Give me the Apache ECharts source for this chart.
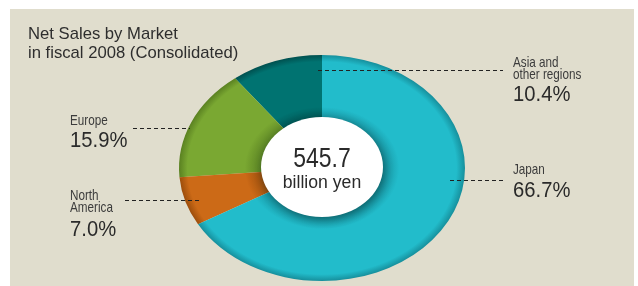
<!DOCTYPE html>
<html>
<head>
<meta charset="utf-8">
<script src="https://cdn.jsdelivr.net/npm/echarts@6/dist/echarts.min.js"></script>
<style>
html, body { margin: 0; padding: 0; background: #fff; }
#main { width: 638px; height: 286px; }
</style>
</head>
<body>
<div id="main"></div>
<script>
// data (share of net sales, counter-clockwise from 12 o'clock)
var regions = ['Asia and other regions', 'Europe', 'North America', 'Japan'];
var labelLines = [['Asia and', 'other regions'], ['Europe'], ['North', 'America'], ['Japan']];
var shares = [10.4, 15.9, 7.0, 66.7];
var totalSales = '545.7';
var totalUnit = 'billion yen';
var titleLines = ['Net Sales by Market', 'in fiscal 2008 (Consolidated)'];

// colours: base, edge shade
var baseColors = ['#007371', '#7aa832', '#cc6a17', '#22bccb'];
var edgeColors = ['#00504f', '#5a8121', '#9c4d0b', '#168f9c'];

var CX = 322, CY = 168, R = 143, R0 = 50, SY = 113 / 143;
var FONT = "'Liberation Sans', Arial, Helvetica, sans-serif";

var chart = echarts.init(document.getElementById('main'), null, { renderer: 'canvas' });

var total = 0;
for (var i = 0; i < shares.length; i++) total += shares[i];

function renderItem(params, api) {
	var idx = params.dataIndex;
	var v = api.value(0);
	var before = 0;
	for (var k = 0; k < idx; k++) before += shares[k];
	var a0 = -Math.PI / 2 - (before + v) / total * Math.PI * 2;
	var a1 = -Math.PI / 2 - before / total * Math.PI * 2;
	return {
		type: 'sector',
		shape: { cx: CX, cy: CY, r: R, r0: R0, startAngle: a0, endAngle: a1, clockwise: true },
		originX: CX, originY: CY, scaleY: SY,
		style: {
			fill: {
				type: 'radial', x: CX, y: CY, r: R, global: true,
				colorStops: [
					{ offset: 0, color: edgeColors[idx] },
					{ offset: 0.42, color: edgeColors[idx] },
					{ offset: 0.54, color: baseColors[idx] },
					{ offset: 0.94, color: baseColors[idx] },
					{ offset: 1, color: edgeColors[idx] }
				]
			}
		}
	};
}

// label layout: x, middle y of each name line, middle y of percent, leader line
var labelPos = [
	{ x: 513, lines: [63, 75], pct: 95, line: [318, 70, 503, 70] },
	{ x: 70, lines: [121], pct: 141, line: [133, 128, 190, 128] },
	{ x: 70, lines: [196, 208], pct: 230, line: [125, 200, 202, 200] },
	{ x: 513, lines: [170], pct: 191, line: [450, 180, 505, 180] }
];

// condensed look: regular sans squeezed horizontally
function squeezed(x, y, text, size, sx, color, align) {
	return {
		type: 'text', z: 101, x: x, y: y, scaleX: sx,
		style: { text: text, fill: color, font: size + 'px ' + FONT, align: align || 'left', verticalAlign: 'middle' }
	};
}

var graphic = [
	{ type: 'rect', z: -10, shape: { x: 10, y: 9, width: 624, height: 280 }, style: { fill: '#e0ddcd' } },
	squeezed(28, 34, titleLines[0], 17, 0.98, '#2e2e2e'),
	squeezed(28, 53, titleLines[1], 17, 0.98, '#2e2e2e'),
	{ type: 'ellipse', z: 100, shape: { cx: CX, cy: 167, rx: 61, ry: 50 },
		style: { fill: '#ffffff', shadowBlur: 10, shadowColor: 'rgba(0,40,40,0.45)', shadowOffsetX: 2, shadowOffsetY: 3 } },
	squeezed(322, 159, totalSales, 28, 0.82, '#2a2a2a', 'center'),
	squeezed(322, 183, totalUnit, 18, 0.98, '#2a2a2a', 'center')
];

for (var j = 0; j < regions.length; j++) {
	var p = labelPos[j];
	for (var m = 0; m < labelLines[j].length; m++) {
		graphic.push(squeezed(p.x, p.lines[m], labelLines[j][m], 15, 0.78, '#3c3c3c'));
	}
	graphic.push(squeezed(p.x, p.pct, shares[j].toFixed(1) + '%', 22, 0.92, '#2a2a2a'));
	// +0.5 keeps the 1px dashes crisp
	graphic.push({ type: 'line', z: 101, shape: { x1: p.line[0], y1: p.line[1] + 0.5, x2: p.line[2], y2: p.line[3] + 0.5 },
		style: { stroke: '#222222', lineWidth: 1, lineDash: [4, 3] } });
}

var option = {
	backgroundColor: '#ffffff',
	animation: false,
	graphic: graphic,
	series: [{
		type: 'custom',
		name: 'Net Sales by Market',
		coordinateSystem: 'none',
		renderItem: renderItem,
		data: shares.map(function (v, i) { return { name: regions[i], value: v }; })
	}]
};
chart.setOption(option);
</script>
</body>
</html>
